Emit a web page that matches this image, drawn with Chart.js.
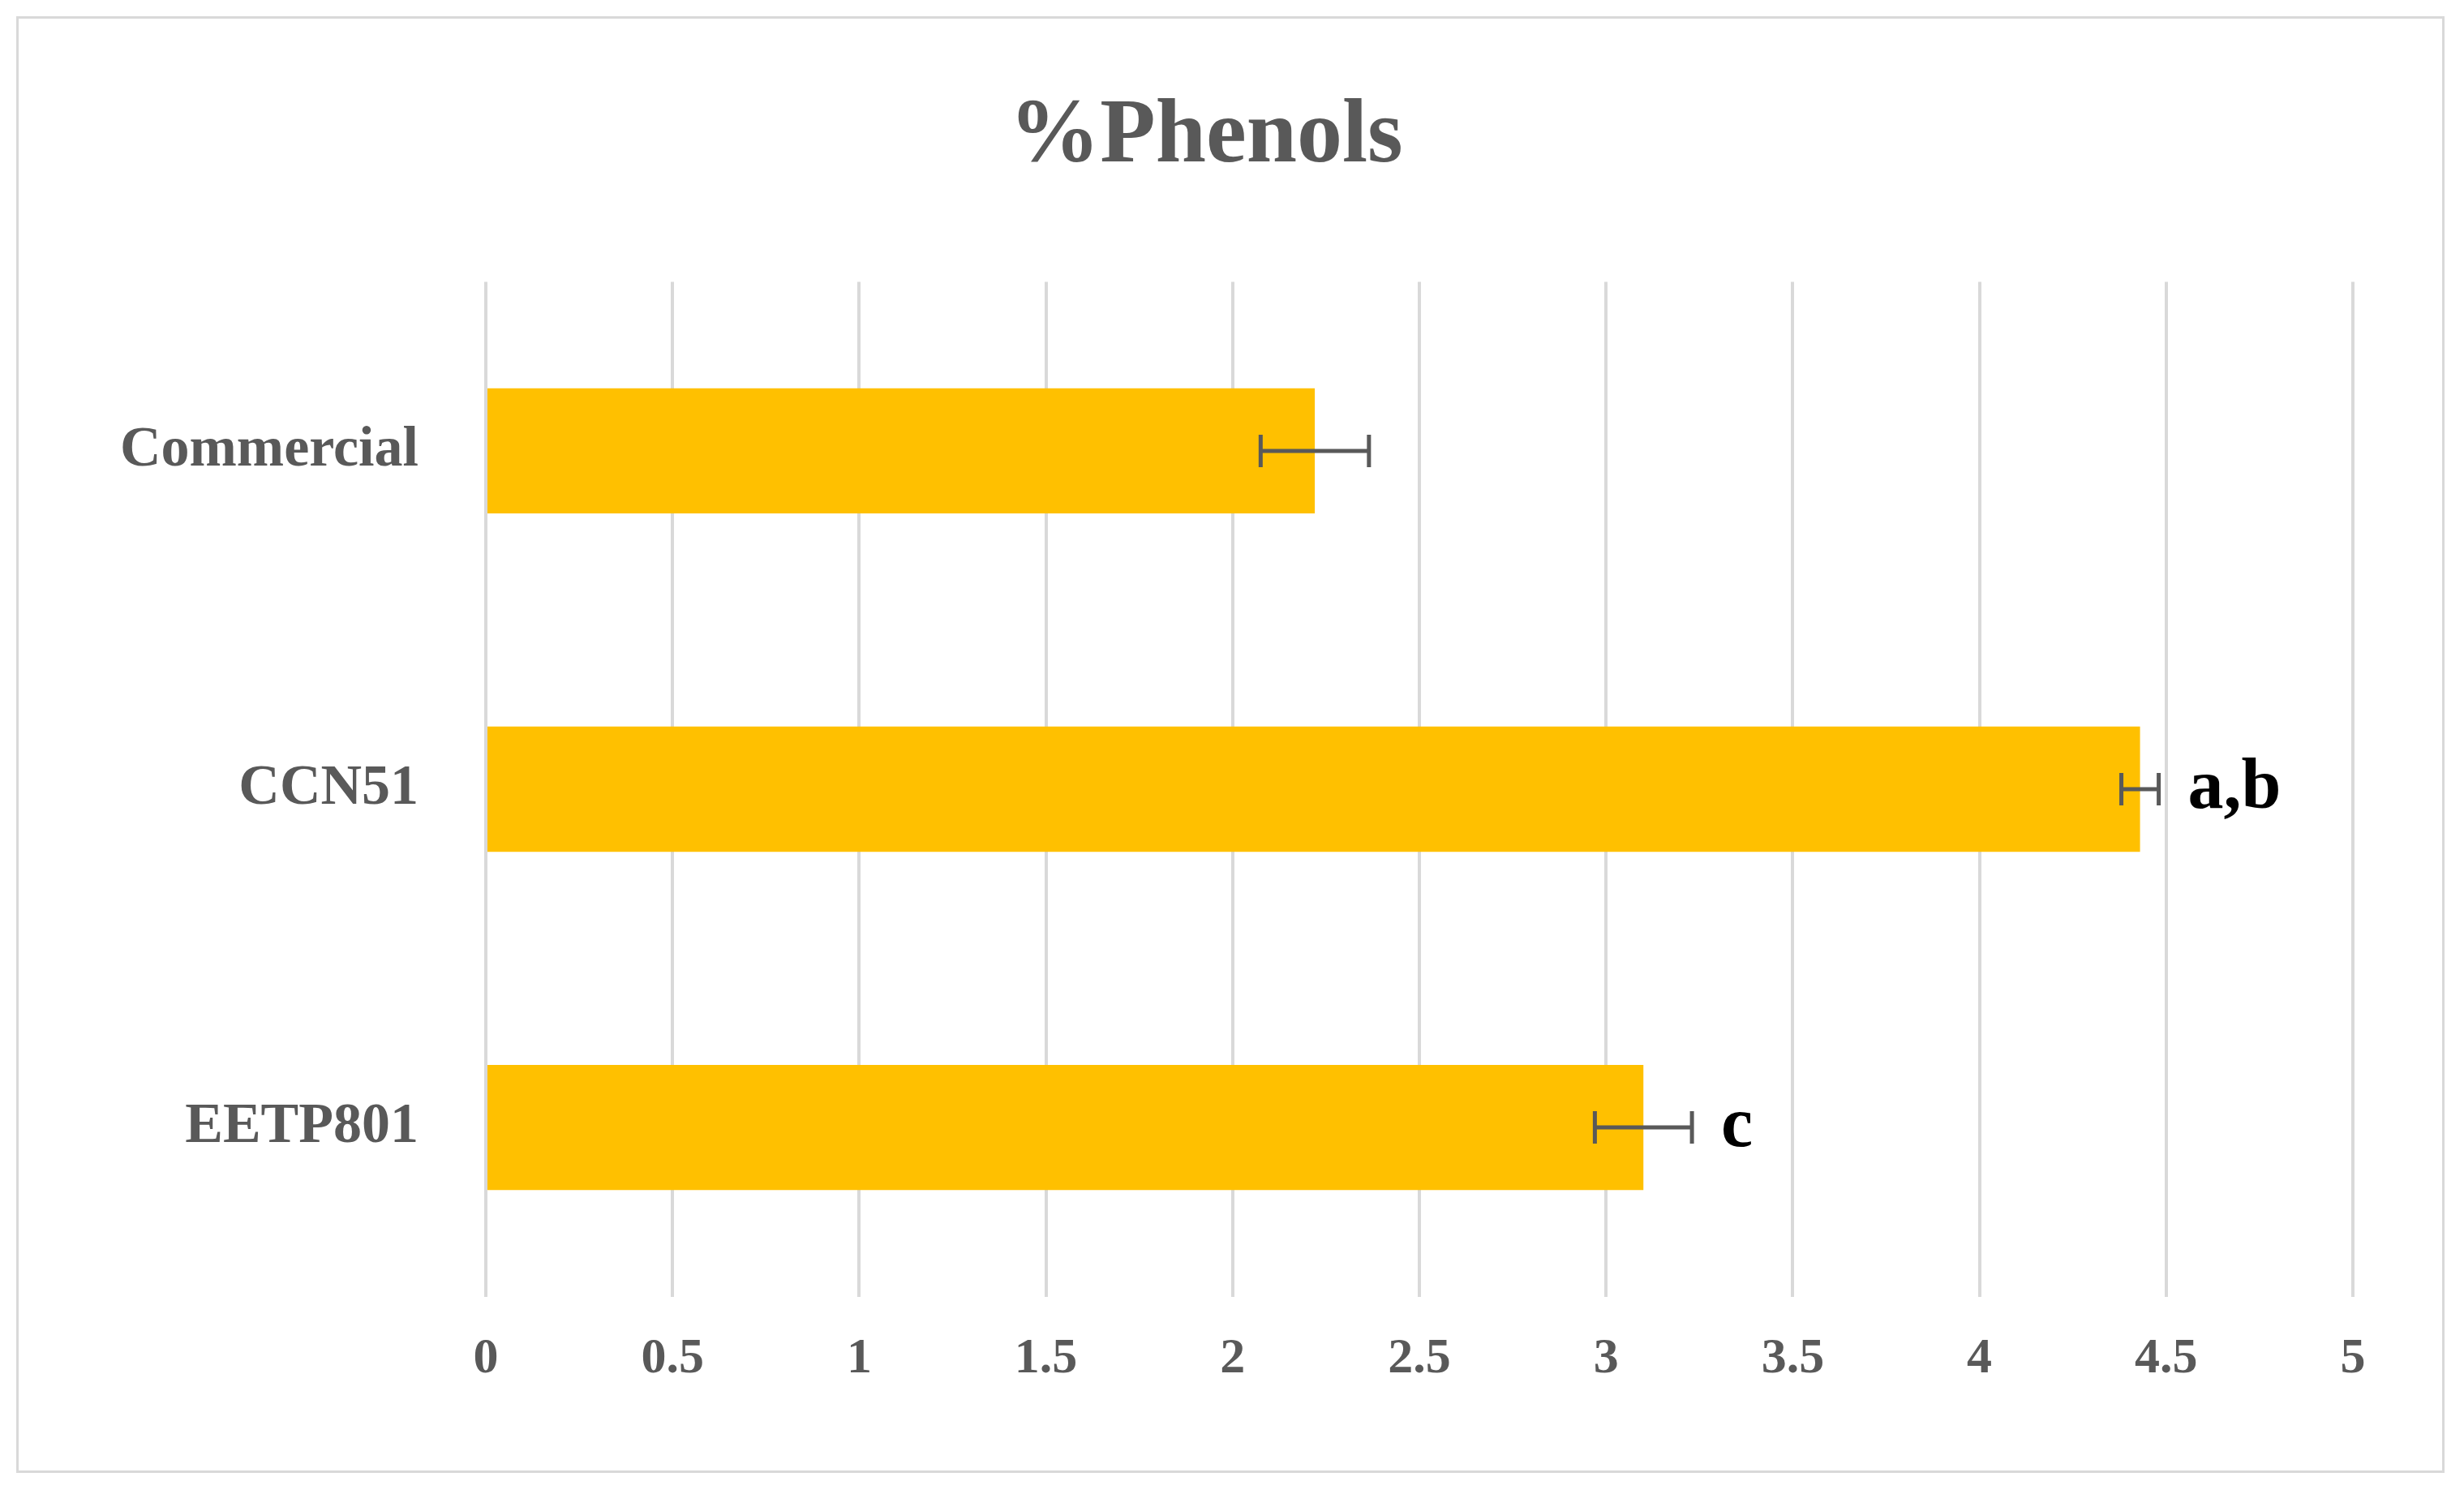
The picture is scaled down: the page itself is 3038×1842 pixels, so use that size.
<!DOCTYPE html>
<html>
<head>
<meta charset="utf-8">
<script src="https://cdn.jsdelivr.net/npm/chart.js@4/dist/chart.umd.min.js"></script>
<style>
  html, body { margin: 0; padding: 0; background: #fff; }
  #wrap { position: absolute; left: 20px; top: 20px; width: 2994px; height: 1796px; border: 3px solid #d9d9d9; box-sizing: border-box; }
  canvas { display: block; }
</style>
</head>
<body>
<div id="wrap"><canvas id="chart"></canvas></div>
<script>
// data
const categories = ['Commercial', 'CCN51', 'EETP801'];
const phenols = [2.22, 4.43, 3.10];
const phenolErr = [0.145, 0.05, 0.13];
const letters = ['', 'a,b', 'c'];
const tickValues = [0, 0.5, 1, 1.5, 2, 2.5, 3, 3.5, 4, 4.5, 5];

const serif = "'Liberation Serif', 'DejaVu Serif', serif";

// error bars + significance letters
const errorBars = {
  id: 'errorBars',
  afterDatasetsDraw(chart) {
    const ctx = chart.ctx;
    const x = chart.scales.x;
    const meta = chart.getDatasetMeta(0);
    ctx.save();
    meta.data.forEach((bar, i) => {
      const y = bar.y;
      const lo = x.getPixelForValue(phenols[i] - phenolErr[i]);
      const hi = x.getPixelForValue(phenols[i] + phenolErr[i]);
      ctx.strokeStyle = '#595959';
      ctx.lineWidth = 5;
      ctx.beginPath();
      ctx.moveTo(lo, y); ctx.lineTo(hi, y);
      ctx.moveTo(lo, y - 20); ctx.lineTo(lo, y + 20);
      ctx.moveTo(hi, y - 20); ctx.lineTo(hi, y + 20);
      ctx.stroke();
      if (letters[i]) {
        ctx.fillStyle = '#000';
        ctx.font = 'bold 88px ' + serif;
        ctx.textBaseline = 'middle';
        ctx.fillText(letters[i], hi + 36, y);
      }
    });
    ctx.restore();
  }
};

new Chart(document.getElementById('chart'), {
  type: 'bar',
  data: {
    labels: categories,
    datasets: [{
      data: phenols,
      backgroundColor: '#ffc000',
      borderWidth: 0,
      categoryPercentage: 1,
      barPercentage: 0.37
    }]
  },
  options: {
    indexAxis: 'y',
    responsive: true,
    maintainAspectRatio: false,
    animation: false,
    layout: { padding: { left: 50, right: 110, top: 30, bottom: 60 } },
    plugins: {
      legend: { display: false },
      tooltip: { enabled: false },
      title: {
        display: true,
        text: '%Phenols',
        color: '#595959',
        font: { family: serif, size: 112, weight: 'bold' },
        padding: { top: 50, bottom: 110 }
      }
    },
    scales: {
      x: {
        min: 0, max: 5,
        afterBuildTicks: axis => { axis.ticks = tickValues.map(v => ({ value: v })); },
        grid: { color: '#d9d9d9', lineWidth: 4, drawTicks: false },
        border: { display: false },
        ticks: {
          color: '#595959', font: { family: serif, size: 62, weight: 'bold' }, padding: 40,
          callback: v => String(v)
        }
      },
      y: {
        grid: { display: false },
        border: { display: false },
        ticks: { color: '#595959', font: { family: serif, size: 70, weight: 'bold' }, padding: 75 }
      }
    }
  },
  plugins: [errorBars]
});
</script>
</body>
</html>
